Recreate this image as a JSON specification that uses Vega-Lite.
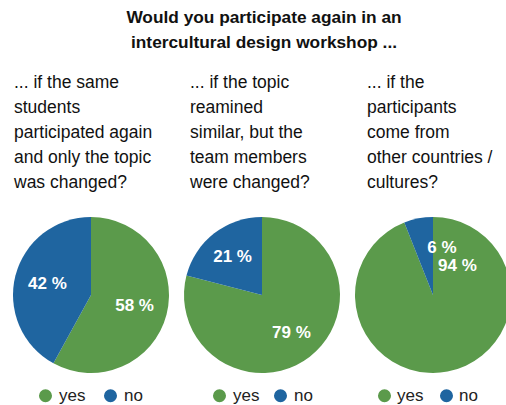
{
  "$schema": "https://vega.github.io/schema/vega-lite/v6.json",
  "padding": {"left": 13, "top": 9, "right": 0, "bottom": 0},
  "background": "white",
  "config": {
    "font": "Liberation Sans",
    "view": {"stroke": null},
    "title": {"font": "Liberation Sans", "color": "#111111"},
    "legend": {"labelFont": "Liberation Sans"}
  },
  "title": {
    "text": ["Would you participate again in an", "intercultural design workshop ..."],
    "fontSize": 17.3,
    "fontWeight": "bold",
    "lineHeight": 25,
    "anchor": "middle",
    "offset": 22,
    "dx": 2
  },
  "data": {
    "values": [
      {"q": 1, "answer": "yes", "ord": 1, "pct": 58, "label": "58 %"},
      {"q": 1, "answer": "no", "ord": 2, "pct": 42, "label": "42 %"},
      {"q": 2, "answer": "yes", "ord": 1, "pct": 79, "label": "79 %"},
      {"q": 2, "answer": "no", "ord": 2, "pct": 21, "label": "21 %"},
      {"q": 3, "answer": "yes", "ord": 1, "pct": 94, "label": "94 %"},
      {"q": 3, "answer": "no", "ord": 2, "pct": 6, "label": "6 %"}
    ]
  },
  "spacing": 15,
  "resolve": {"scale": {"color": "independent", "theta": "independent"}, "legend": {"color": "independent"}},
  "hconcat": [
    {
      "width": 156, "height": 156,
      "title": {"text": ["... if the same", "students", "participated again", "and only the topic", "was changed?"], "anchor": "start", "align": "left", "fontSize": 17.5, "fontWeight": "normal", "lineHeight": 25, "offset": 26, "dx": 1},
      "transform": [{"filter": "datum.q == 1"}],
      "encoding": {
        "theta": {"field": "pct", "type": "quantitative", "stack": true},
        "order": {"field": "ord", "type": "quantitative"},
        "color": {"field": "answer", "type": "nominal", "scale": {"domain": ["yes", "no"], "range": ["#5B9A4B", "#1F65A0"]},
          "legend": {"title": null, "orient": "none", "legendX": 24, "legendY": 170, "direction": "horizontal", "symbolType": "circle", "symbolSize": 170, "symbolStrokeWidth": 0, "labelFontSize": 17, "labelColor": "#222222", "labelOffset": 5, "columnPadding": 16}}
      },
      "layer": [
        {"mark": {"type": "arc", "outerRadius": 78}},
        {"mark": {"type": "text", "radius": 45, "fill": "white", "fontWeight": "bold", "fontSize": 17}, "encoding": {"text": {"field": "label"}}}
      ]
    },
    {
      "width": 156, "height": 156,
      "title": {"text": ["... if the topic", "reamined", "similar, but the", "team members", "were changed?"], "anchor": "start", "align": "left", "fontSize": 17.5, "fontWeight": "normal", "lineHeight": 25, "offset": 26, "dx": 6},
      "transform": [{"filter": "datum.q == 2"}],
      "encoding": {
        "theta": {"field": "pct", "type": "quantitative", "stack": true},
        "order": {"field": "ord", "type": "quantitative"},
        "color": {"field": "answer", "type": "nominal", "scale": {"domain": ["yes", "no"], "range": ["#5B9A4B", "#1F65A0"]},
          "legend": {"title": null, "orient": "none", "legendX": 27, "legendY": 170, "direction": "horizontal", "symbolType": "circle", "symbolSize": 170, "symbolStrokeWidth": 0, "labelFontSize": 17, "labelColor": "#222222", "labelOffset": 5, "columnPadding": 12}}
      },
      "layer": [
        {"mark": {"type": "arc", "outerRadius": 78}},
        {"mark": {"type": "text", "radius": 48, "fill": "white", "fontWeight": "bold", "fontSize": 17}, "encoding": {"text": {"field": "label"}}}
      ]
    },
    {
      "width": 156, "height": 156,
      "title": {"text": ["... if the", "participants", "come from", "other countries /", "cultures?"], "anchor": "start", "align": "left", "fontSize": 17.5, "fontWeight": "normal", "lineHeight": 25, "offset": 26, "dx": 12},
      "transform": [{"filter": "datum.q == 3"}],
      "encoding": {
        "theta": {"field": "pct", "type": "quantitative", "stack": true},
        "order": {"field": "ord", "type": "quantitative"},
        "color": {"field": "answer", "type": "nominal", "scale": {"domain": ["yes", "no"], "range": ["#5B9A4B", "#1F65A0"]},
          "legend": {"title": null, "orient": "none", "legendX": 21, "legendY": 170, "direction": "horizontal", "symbolType": "circle", "symbolSize": 170, "symbolStrokeWidth": 0, "labelFontSize": 17, "labelColor": "#222222", "labelOffset": 4, "columnPadding": 14}}
      },
      "layer": [
        {"mark": {"type": "arc", "outerRadius": 78}},
        {"transform": [{"filter": "datum.answer == 'yes'"}], "mark": {"type": "text", "radius": 45, "fill": "white", "fontWeight": "bold", "fontSize": 17, "dx": 16, "dy": -73}, "encoding": {"text": {"field": "label"}}},
        {"transform": [{"filter": "datum.answer == 'no'"}], "mark": {"type": "text", "radius": 48, "fill": "white", "fontWeight": "bold", "fontSize": 17}, "encoding": {"text": {"field": "label"}}}
      ]
    }
  ]
}
